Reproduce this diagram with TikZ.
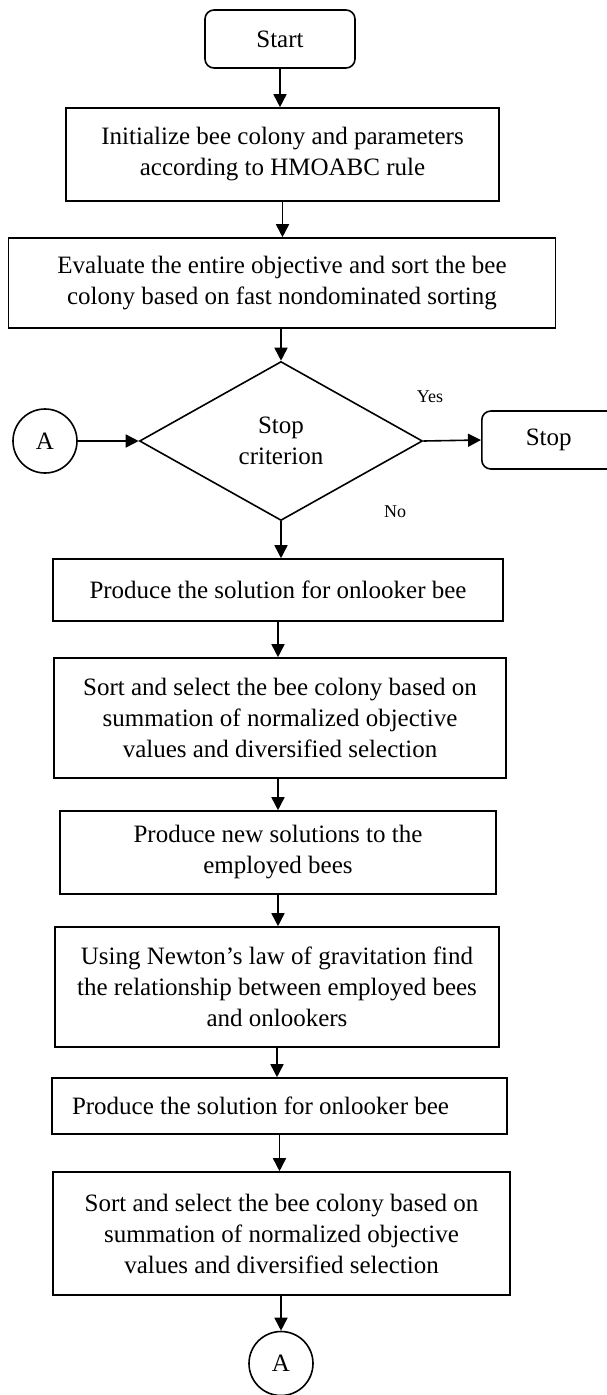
\documentclass[tikz,border=0pt]{standalone}
\usepackage{fontspec}
\setmainfont{Liberation Serif}
\usetikzlibrary{arrows.meta,shapes.geometric,calc}
\begin{document}
\begin{tikzpicture}[x=1pt,y=-1pt,
  every node/.style={font=\fontsize{25}{31}\selectfont},
  box/.style={draw, line width=1.6pt, align=center, inner sep=0pt},
  term/.style={box, rounded corners=9pt},
  conn/.style={draw, circle, line width=1.6pt, inner sep=0pt, minimum size=64pt},
  arr/.style={line width=1.6pt, -{Triangle[length=13pt,width=13pt]}},
  lbl/.style={font=\fontsize{18}{20}\selectfont}]
\useasboundingbox (0,0) rectangle (607,1395);
\node[term, minimum width=150, minimum height=58] (start) at (280,39) {Start};
\node[box, minimum width=433, minimum height=93] (init) at (282.5,154.5)
  {Initialize bee colony and parameters\\according to HMOABC rule};
\node[box, minimum width=547, minimum height=90] (eval) at (282,283)
  {Evaluate the entire objective and sort the bee\\colony based on fast nondominated sorting};
\node[draw, diamond, line width=1.6pt, inner sep=0pt, aspect=1.78,
  minimum width=283, minimum height=159, align=center] (dec) at (281,441)
  {Stop\\criterion};
\node[conn] (A1) at (45,441) {A};
\node[term, anchor=west, align=flush left, text width=112pt, inner xsep=44pt, minimum height=58] (stop) at (481,440) {Stop};
\node[lbl] (yes) at (430,397) {Yes};
\node[lbl] (no) at (395,512) {No};
\node[box, minimum width=450, minimum height=62] (p1) at (278,590)
  {Produce the solution for onlooker bee};
\node[box, minimum width=452, minimum height=120] (s1) at (280,718)
  {Sort and select the bee colony based on\\summation of normalized objective\\values and diversified selection};
\node[box, minimum width=436, minimum height=83] (pn) at (278,852.5)
  {Produce new solutions to the\\employed bees};
\node[box, minimum width=444, minimum height=120] (nw) at (277,987)
  {Using Newton’s law of gravitation find\\the relationship between employed bees\\and onlookers};
\node[box, align=flush left, text width=415pt, inner xsep=20pt, minimum height=56] (p2) at (279.5,1106)
  {Produce the solution for onlooker bee};
\node[box, minimum width=457, minimum height=123] (s2) at (281.5,1233.5)
  {Sort and select the bee colony based on\\summation of normalized objective\\values and diversified selection};
\node[conn] (A2) at (281,1363.5) {A};
\draw[arr] (start.south) -- (start.south |- init.north);
\draw[arr] (init.south) -- (init.south |- eval.north);
\draw[arr] (dec.north |- eval.south) -- (dec.north);
\draw[arr] (A1.east) -- (dec.west);
\draw[arr] (dec.east) -- (stop.west);
\draw[arr] (dec.south) -- (dec.south |- p1.north);
\draw[arr] (p1.south) -- (p1.south |- s1.north);
\draw[arr] (pn.north |- s1.south) -- (pn.north);
\draw[arr] (pn.south) -- (pn.south |- nw.north);
\draw[arr] (nw.south) -- (nw.south |- p2.north);
\draw[arr] (p2.south) -- (p2.south |- s2.north);
\draw[arr] (A2.north |- s2.south) -- (A2.north);
\end{tikzpicture}
\end{document}
